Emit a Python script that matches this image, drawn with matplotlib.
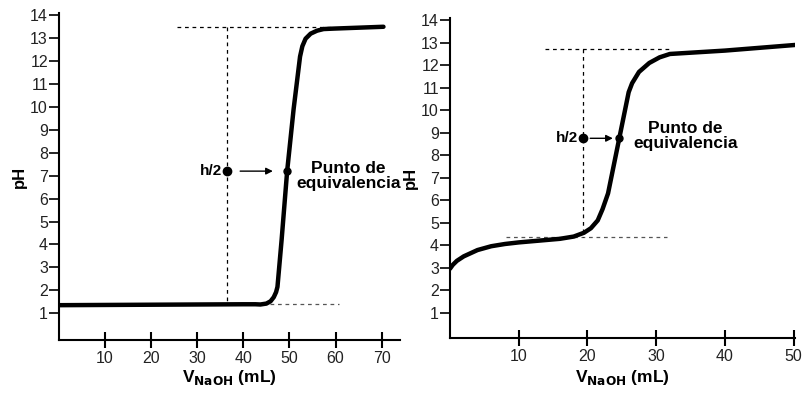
import matplotlib
matplotlib.use("Agg")
import matplotlib.pyplot as plt

plt.rcParams['font.family'] = ['Liberation Sans', 'DejaVu Sans']

# left panel: strong acid titration
vol_a = [0, 10, 20, 30, 40, 42.6, 43.7, 45.0, 45.9, 46.6, 47.1, 47.4, 48.3, 49.5, 50.9, 52.3, 52.8, 53.5, 54.6, 56.0, 57.4, 59.6, 65, 70.4]
ph_a = [1.35, 1.36, 1.37, 1.38, 1.39, 1.39, 1.38, 1.42, 1.52, 1.7, 1.92, 2.15, 4.2, 7.2, 9.9, 12.2, 12.65, 12.98, 13.2, 13.33, 13.4, 13.42, 13.46, 13.5]
# right panel: weak acid titration
vol_b = [0, 0.4, 1, 2, 4, 6, 8, 10, 13, 16, 18, 19.5, 20.5, 21.5, 22.2, 23, 24.6, 26, 26.5, 27.5, 29, 30.5, 32, 40, 50.2]
ph_b = [2.95, 3.12, 3.3, 3.5, 3.78, 3.95, 4.05, 4.12, 4.2, 4.28, 4.38, 4.55, 4.75, 5.1, 5.6, 6.3, 8.7, 10.8, 11.2, 11.7, 12.1, 12.35, 12.5, 12.65, 12.9]

yticks = list(range(1, 15))
xticks_a = [10, 20, 30, 40, 50, 60, 70]
xticks_b = [10, 20, 30, 40, 50]

# guide lines around the half-height point and the equivalence point
guide_a = dict(xh=36.5, ph=7.2, xeq=49.5, low=1.41, high=13.5,
               top_x=(25.6, 59.5), low_x=(42.5, 60.7), arrow=(38.7, 47.0), text=(62.8, 7.0))
guide_b = dict(xh=19.3, ph=8.75, xeq=24.6, low=4.34, high=12.7,
               top_x=(13.8, 32.3), low_x=(8.2, 31.6), arrow=(20.0, 24.1), text=(34.3, 8.86))


def draw(ax, vol, ph, xticks, xlim, ylim, g, vtop, xlabelpad):
    ax.plot(vol, ph, color='black', lw=3.2, solid_capstyle='round', solid_joinstyle='round', zorder=3)
    ax.plot(g['top_x'], [g['high'], g['high']], ls=(0, (3, 3)), color='black', lw=0.9)
    ax.plot(g['low_x'], [g['low'], g['low']], ls=(0, (3, 3)), color='#555555', lw=0.9)
    ax.plot([g['xh'], g['xh']], [vtop, g['low']], ls=(0, (3, 3)), color='black', lw=0.9)
    ax.plot([g['xh']], [g['ph']], 'o', color='black', ms=6, zorder=4)
    ax.plot([g['xeq']], [g['ph']], 'o', color='black', ms=5, zorder=4)
    ax.annotate('', xy=(g['arrow'][1], g['ph']), xytext=(g['arrow'][0], g['ph']),
                arrowprops=dict(arrowstyle='-|>', color='black', lw=1.0, mutation_scale=10))
    ax.text(g['xh'] - 1.0 * (xlim[1] / 74), g['ph'], 'h/2', ha='right', va='center',
            fontsize=11, fontweight='bold')
    ax.text(g['text'][0], g['text'][1], 'Punto de\nequivalencia', ha='center', va='center',
            fontsize=12.5, fontweight='bold', linespacing=1.0)
    ax.set_xlim(*xlim)
    ax.set_ylim(*ylim)
    ax.set_xticks(xticks)
    ax.set_yticks(yticks)
    ax.spines['top'].set_visible(False)
    ax.spines['right'].set_visible(False)
    for s in ('left', 'bottom'):
        ax.spines[s].set_linewidth(1.5)
    ax.tick_params(axis='y', direction='out', length=7, width=1.2, labelsize=11.5, pad=1,
                   labelcolor='#222222')
    ax.tick_params(axis='x', direction='inout', length=12, width=1.5, labelsize=11.5, pad=2,
                   labelcolor='#222222')
    ax.set_ylabel('pH', fontsize=12, fontweight='bold', labelpad=2)
    ax.set_xlabel(r'V$_{\mathbf{NaOH}}$ (mL)', fontsize=12.5, fontweight='bold', labelpad=xlabelpad)


fig = plt.figure(figsize=(8.03, 3.98), dpi=100)
ax1 = fig.add_axes([0.0735, 0.1457, 0.4247, 0.8216])
ax2 = fig.add_axes([0.5604, 0.1508, 0.4296, 0.804])

draw(ax1, vol_a, ph_a, xticks_a, (0, 74), (-0.17, 14.1), guide_a, 13.5, 1)
draw(ax2, vol_b, ph_b, xticks_b, (0, 50.2), (-0.13, 14.1), guide_b, 12.7, 3)

fig.savefig('out.png', dpi=100)
